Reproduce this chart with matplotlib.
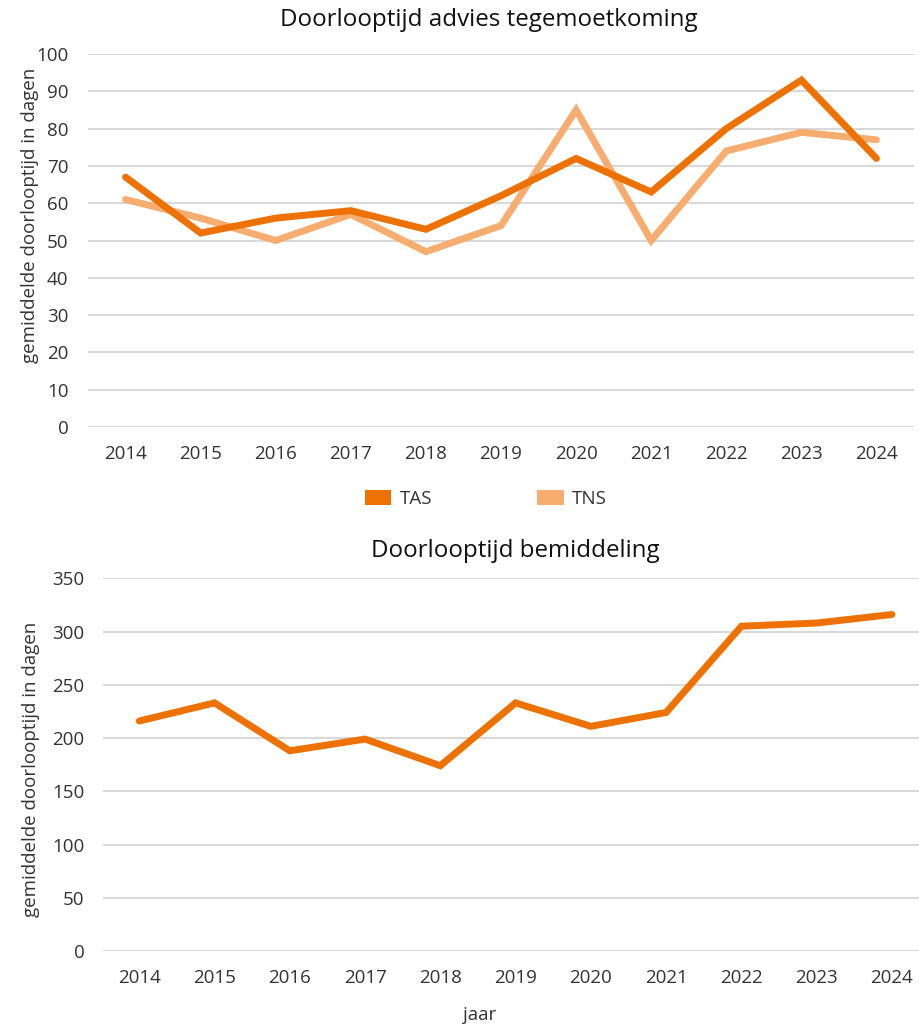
import matplotlib
matplotlib.use("Agg")
import matplotlib.pyplot as plt
from matplotlib.patches import Patch

plt.rcParams['font.family'] = ['Open Sans', 'DejaVu Sans']

years = ["2014", "2015", "2016", "2017", "2018", "2019", "2020", "2021", "2022", "2023", "2024"]
tas = [67, 52, 56, 58, 53, 62, 72, 63, 80, 93, 72]
tns = [61, 56, 50, 57, 47, 54, 85, 50, 74, 79, 77]
bemiddeling = [216, 233, 188, 199, 174, 233, 211, 224, 305, 308, 316]

top_ticks = list(range(0, 101, 10))
bottom_ticks = list(range(0, 351, 50))

C_TAS = "#EE7203"
C_TNS = "#F7AD6F"
GRID = "#D9D9D9"
TXT = "#333333"
FS = 13.5

W, H = 919, 1024
fig = plt.figure(figsize=(W / 100, H / 100), dpi=100)


def px_axes(l, r, t, b):
    return fig.add_axes([l / W, 1 - b / H, (r - l) / W, (b - t) / H])


def style(ax):
    for s in ax.spines.values():
        s.set_visible(False)
    ax.tick_params(length=0, labelsize=FS, labelcolor=TXT)
    ax.grid(axis='y', color=GRID, linewidth=1.5)
    ax.set_axisbelow(True)


x = list(range(len(years)))

# Top chart
ax1 = px_axes(88, 914, 54, 427)
style(ax1)
ax1.plot(x, tns, color=C_TNS, lw=5, solid_joinstyle='miter', solid_capstyle='round', zorder=3)
ax1.plot(x, tas, color=C_TAS, lw=5, solid_joinstyle='miter', solid_capstyle='round', zorder=4)
ax1.set_ylim(0, 100)
ax1.set_yticks(top_ticks)
ax1.set_xlim(-0.5, 10.5)
ax1.set_xticks(x)
ax1.set_xticklabels(years)
ax1.tick_params(axis='y', pad=14)
ax1.tick_params(axis='x', pad=13)
fig.text(489 / W, 1 - 20 / H, "Doorlooptijd advies tegemoetkoming",
         ha='center', va='center', fontsize=17.4, color='#111111')
fig.text(30 / W, 1 - 215 / H, "gemiddelde doorlooptijd in dagen", rotation=90,
         ha='center', va='center', fontsize=FS, color=TXT)

handles = [Patch(facecolor=C_TAS, label="TAS"), Patch(facecolor=C_TNS, label="TNS")]
fig.legend(handles=handles, loc='center', bbox_to_anchor=(486 / W, 1 - 499 / H),
           ncol=2, frameon=False, fontsize=FS, handlelength=1.4, handleheight=0.9,
           columnspacing=5.6, handletextpad=0.45, labelcolor=TXT)

# Bottom chart
ax2 = px_axes(102.7, 919, 578.3, 951)
style(ax2)
ax2.plot(x, bemiddeling, color=C_TAS, lw=5, solid_joinstyle='miter', solid_capstyle='round', zorder=4)
ax2.set_ylim(0, 350)
ax2.set_yticks(bottom_ticks)
ax2.set_xlim(-0.486, 10.36)
ax2.set_xticks(x)
ax2.set_xticklabels(years)
ax2.tick_params(axis='y', pad=13)
ax2.tick_params(axis='x', pad=13)
fig.text(515 / W, 1 - 551 / H, "Doorlooptijd bemiddeling",
         ha='center', va='center', fontsize=17.4, color='#111111')
fig.text(31 / W, 1 - 769 / H, "gemiddelde doorlooptijd in dagen", rotation=90,
         ha='center', va='center', fontsize=FS, color=TXT)
fig.text(480 / W, 1 - 1015 / H, "jaar", ha='center', va='center', fontsize=FS, color=TXT)

fig.savefig("out.png", dpi=100, facecolor='white')
